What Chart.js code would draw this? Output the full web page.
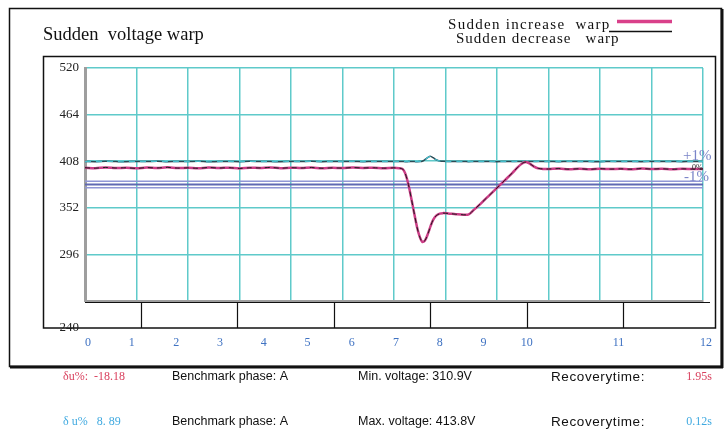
<!DOCTYPE html>
<html>
<head>
<meta charset="utf-8">
<title>Sudden voltage warp</title>
<script src="https://cdn.jsdelivr.net/npm/chart.js@4/dist/chart.umd.min.js"></script>
<style>
  html, body { margin: 0; padding: 0; background: #ffffff; }
  canvas { display: block; }
</style>
</head>
<body>
<canvas id="grafik" width="728" height="433"></canvas>
<script>
// --- data (x in grid divisions, y in volts) ---
const waktu = [
  0, 0.2, 0.4, 0.6, 0.8, 1.0, 1.2, 1.4, 1.6, 1.8, 2.0, 2.2, 2.4, 2.6, 2.8, 3.0,
  3.2, 3.4, 3.6, 3.8, 4.0, 4.2, 4.4, 4.6, 4.8, 5.0, 5.2, 5.4, 5.6, 5.8, 6.0,
  6.1, 6.17, 6.22, 6.28, 6.34, 6.4, 6.45, 6.5, 6.55, 6.6, 6.66, 6.71, 6.76, 6.82, 6.89,
  6.95, 7.05, 7.2, 7.35, 7.45, 7.55, 7.7, 7.85, 8.0, 8.15, 8.3, 8.4, 8.47, 8.52, 8.58,
  8.65, 8.72, 8.8, 8.9,
  9.0, 9.2, 9.4, 9.6, 9.8, 10.0, 10.2, 10.4, 10.6, 10.8, 11.0, 11.2, 11.4, 11.6, 11.8, 12.0
];

// pink curve ("Sudden increase warp" in the legend) - the dip
const naikWarp = [
  400.2, 399.6, 400.5, 399.8, 400.1, 399.4, 400.3, 399.9, 400.6, 399.7, 400.0, 399.5, 400.4, 399.8, 400.2, 399.3,
  400.1, 399.9, 400.5, 399.6, 400.2, 399.8, 400.4, 399.5, 400.0, 399.7, 400.3, 399.9, 400.1, 399.6, 400.0,
  399.6, 398.5, 393, 380, 362, 343, 328, 317, 311, 312.5, 321, 330, 337.5, 342.5, 345,
  345.6, 345.2, 344.3, 343.6, 344, 349.5, 358, 367, 376, 385, 394, 400.5, 404.5, 406.5, 406.8,
  404.5, 401.5, 399.4, 398.7,
  398.6, 399.1, 398.4, 398.9, 398.3, 399.0, 398.5, 398.8, 398.4, 399.1, 398.6, 398.9, 398.3, 398.8, 398.5, 398.7
];

// dark curve ("Sudden decrease warp") - small bump
const turunWarp = [
  407.6, 407.4, 407.8, 407.5, 407.3, 407.7, 407.5, 407.9, 407.4, 407.6, 407.5, 407.8, 407.3, 407.6, 407.7, 407.4,
  407.8, 407.5, 407.6, 407.3, 407.7, 407.5, 407.8, 407.4, 407.6, 407.5, 407.7, 407.4, 407.6, 407.5, 407.6,
  407.5, 407.6, 407.4, 407.5, 407.6, 407.5, 407.4, 407.6, 408.0, 409.8, 412.6, 413.8, 412.2, 409.8, 408.3,
  407.8, 407.6, 407.5, 407.6, 407.4, 407.6, 407.5, 407.7, 407.4, 407.6, 407.5, 407.7, 407.5, 407.6, 407.4,
  407.6, 407.5, 407.7, 407.5,
  407.6, 407.4, 407.7, 407.5, 407.6, 407.3, 407.7, 407.5, 407.6, 407.4, 407.7, 407.5, 407.6, 407.4, 407.6, 407.5
];

// nominal voltage and +/-1% band
const tegNominal = 380;
const batasAtas  = 383.8;
const batasBawah = 376.2;

const yTicks = [520, 464, 408, 352, 296, 240];
const xTickLabels = ['0', '1', '2', '3', '4', '5', '6', '7', '8', '9', '10', '11', '12'];
// where the blue labels sit, in grid divisions (they are not on the grid)
const xLabelPos = [0.06, 0.91, 1.77, 2.62, 3.47, 4.32, 5.18, 6.04, 6.89, 7.74, 8.58, 10.36, 12.06];
// short black marks under the plot
const posTanda = [1.08, 2.955, 4.83, 6.705, 8.58, 10.455];

const warnaGrid  = '#5fcaca';
const warnaPink  = '#cc3c86';
const warnaGelap = '#2c4b55';
const serif = "'Liberation Serif', 'Times New Roman', serif";
const sans  = "'Liberation Sans', Arial, sans-serif";

function titik(ys) {
  return waktu.map((t, i) => ({ x: t, y: ys[i] }));
}
function garisDatar(v) {
  return [{ x: 0, y: v }, { x: 12, y: v }];
}

// frames, title, legend and the text rows are drawn around the chart
const hiasan = {
  id: 'hiasan',
  beforeDraw(chart) {
    const c = chart.ctx;
    c.save();
    c.fillStyle = '#ffffff';
    c.fillRect(0, 0, chart.width, chart.height);
    c.restore();
  },
  afterDraw(chart) {
    const c = chart.ctx;
    const sx = chart.scales.x;
    const sy = chart.scales.y;
    const a = chart.chartArea;
    c.save();

    // outer frame with heavy bottom/right edge
    c.strokeStyle = '#111';
    c.lineWidth = 1.5;
    c.strokeRect(9.5, 8.5, 712, 358);
    c.lineWidth = 3;
    c.beginPath();
    c.moveTo(10, 367); c.lineTo(723, 367);
    c.moveTo(722, 9); c.lineTo(722, 368);
    c.stroke();

    // inner frame
    c.lineWidth = 1.5;
    c.strokeRect(43.5, 56.5, 672, 271.5);

    // black line under the plot and the short marks
    c.lineWidth = 1.2;
    c.beginPath();
    c.moveTo(a.left, a.bottom + 1.5); c.lineTo(710, a.bottom + 1.5);
    posTanda.forEach(v => {
      const px = Math.round(sx.getPixelForValue(v)) + 0.5;
      c.moveTo(px, a.bottom + 1.5); c.lineTo(px, 328);
    });
    c.stroke();

    // the 240 tick label sits on the inner frame
    c.fillStyle = '#222';
    c.font = '13px ' + serif;
    c.textAlign = 'right';
    c.textBaseline = 'middle';
    c.fillText('240', sy.right - 6, 328);

    // title
    c.textAlign = 'left';
    c.textBaseline = 'alphabetic';
    c.fillStyle = '#111';
    c.font = '18.5px ' + serif;
    c.fillText('Sudden  voltage warp', 43, 40);

    // legend
    c.font = '15px ' + serif;
    c.letterSpacing = '1.3px';
    c.fillText('Sudden increase  warp', 448, 29);
    c.letterSpacing = '1.0px';
    c.fillText('Sudden decrease   warp', 456, 43);
    c.letterSpacing = '0px';
    c.lineWidth = 3.5;
    c.strokeStyle = '#d9408a';
    c.beginPath(); c.moveTo(617, 21.5); c.lineTo(672, 21.5); c.stroke();
    c.lineWidth = 1.5;
    c.strokeStyle = '#111';
    c.beginPath(); c.moveTo(609, 31.5); c.lineTo(672, 31.5); c.stroke();

    // band labels at the right
    c.fillStyle = '#7a84c8';
    c.font = '15px ' + serif;
    c.textBaseline = 'middle';
    c.fillText('+1%', 683, 156);
    c.fillText('-1%', 684, 177);
    c.fillStyle = '#222';
    c.font = '8px ' + serif;
    c.fillText('0%', 692, 168);

    // result rows below the frame
    const baris = [
      { y: 377, du: 'δu%:  -18.18', uji: 'Min. voltage: 310.9V', waktu: '1.95s', warna: '#d9415e' },
      { y: 422, du: 'δ u%   8. 89', uji: 'Max. voltage: 413.8V', waktu: '0.12s', warna: '#3fa9e0' }
    ];
    baris.forEach(r => {
      c.textAlign = 'left';
      c.fillStyle = r.warna;
      c.font = '12px ' + serif;
      c.fillText(r.du, 63, r.y);
      c.fillStyle = '#111';
      c.font = '12.5px ' + sans;
      c.fillText('Benchmark phase: A', 172, r.y);
      c.fillText(r.uji, 358, r.y);
      c.letterSpacing = '0.6px';
      c.font = '13.5px ' + sans;
      c.fillText('Recoverytime:', 551, r.y);
      c.letterSpacing = '0px';
      c.textAlign = 'right';
      c.fillStyle = r.warna;
      c.font = '12px ' + serif;
      c.fillText(r.waktu, 712, r.y);
    });

    c.restore();
  }
};

new Chart(document.getElementById('grafik'), {
  type: 'line',
  data: {
    datasets: [
      { label: 'Sudden increase warp', data: titik(naikWarp), borderColor: warnaPink, borderWidth: 2.5, order: 2 },
      { label: 'increase (trace)', data: titik(naikWarp), borderColor: '#1e1e1e', borderWidth: 1, borderDash: [5, 4], order: 1 },
      { label: 'Sudden decrease warp', data: titik(turunWarp), borderColor: warnaGelap, borderWidth: 1.5, order: 4 },
      { label: 'decrease (trace)', data: titik(turunWarp), borderColor: '#44bccb', borderWidth: 1.2, borderDash: [6, 5], order: 3 },
      { label: '+1%', data: garisDatar(batasAtas), borderColor: '#9096d6', borderWidth: 1.5, tension: 0, order: 7 },
      { label: 'nominal', data: garisDatar(tegNominal), borderColor: '#5f68b2', borderWidth: 2, tension: 0, order: 6 },
      { label: '-1%', data: garisDatar(batasBawah), borderColor: '#9096d6', borderWidth: 1.5, tension: 0, order: 5 }
    ]
  },
  options: {
    responsive: false,
    animation: false,
    devicePixelRatio: 1,
    layout: { padding: { top: 68, right: 25, bottom: 0, left: 0 } },
    elements: {
      point: { radius: 0 },
      line: { tension: 0.3, fill: false }
    },
    plugins: {
      legend: { display: false },
      tooltip: { enabled: false }
    },
    scales: {
      x: {
        type: 'linear',
        position: 'bottom',
        min: 0,
        max: 12,
        ticks: { display: false, stepSize: 1 },
        grid: { color: warnaGrid, lineWidth: 1.5, drawTicks: false },
        border: { color: '#9e9e9e', width: 2 },
        afterFit: s => { s.height = 0; s.paddingLeft = 0; s.paddingRight = 0; }
      },
      xl: {
        type: 'linear',
        position: 'bottom',
        min: 0,
        max: 12,
        grid: { display: false, drawTicks: false },
        border: { display: false },
        afterBuildTicks: s => { s.ticks = xLabelPos.map(v => ({ value: v })); },
        ticks: {
          autoSkip: false,
          maxRotation: 0,
          padding: 35,
          color: '#3f72c2',
          font: { family: serif, size: 12 },
          callback: (v, i) => xTickLabels[i]
        },
        afterFit: s => { s.height = 132; s.paddingLeft = 0; s.paddingRight = 0; }
      },
      y: {
        min: 240,
        max: 520,
        afterBuildTicks: s => { s.ticks = yTicks.map(v => ({ value: v })); },
        ticks: {
          padding: 6,
          color: '#222',
          font: { family: serif, size: 13 },
          callback: v => (v === 240 ? '' : String(v))
        },
        grid: { color: warnaGrid, lineWidth: 1.5, drawTicks: false },
        border: { color: '#9e9e9e', width: 3 },
        afterFit: s => { s.width = 85; s.paddingTop = 0; s.paddingBottom = 0; }
      }
    }
  },
  plugins: [hiasan]
});
</script>
</body>
</html>
